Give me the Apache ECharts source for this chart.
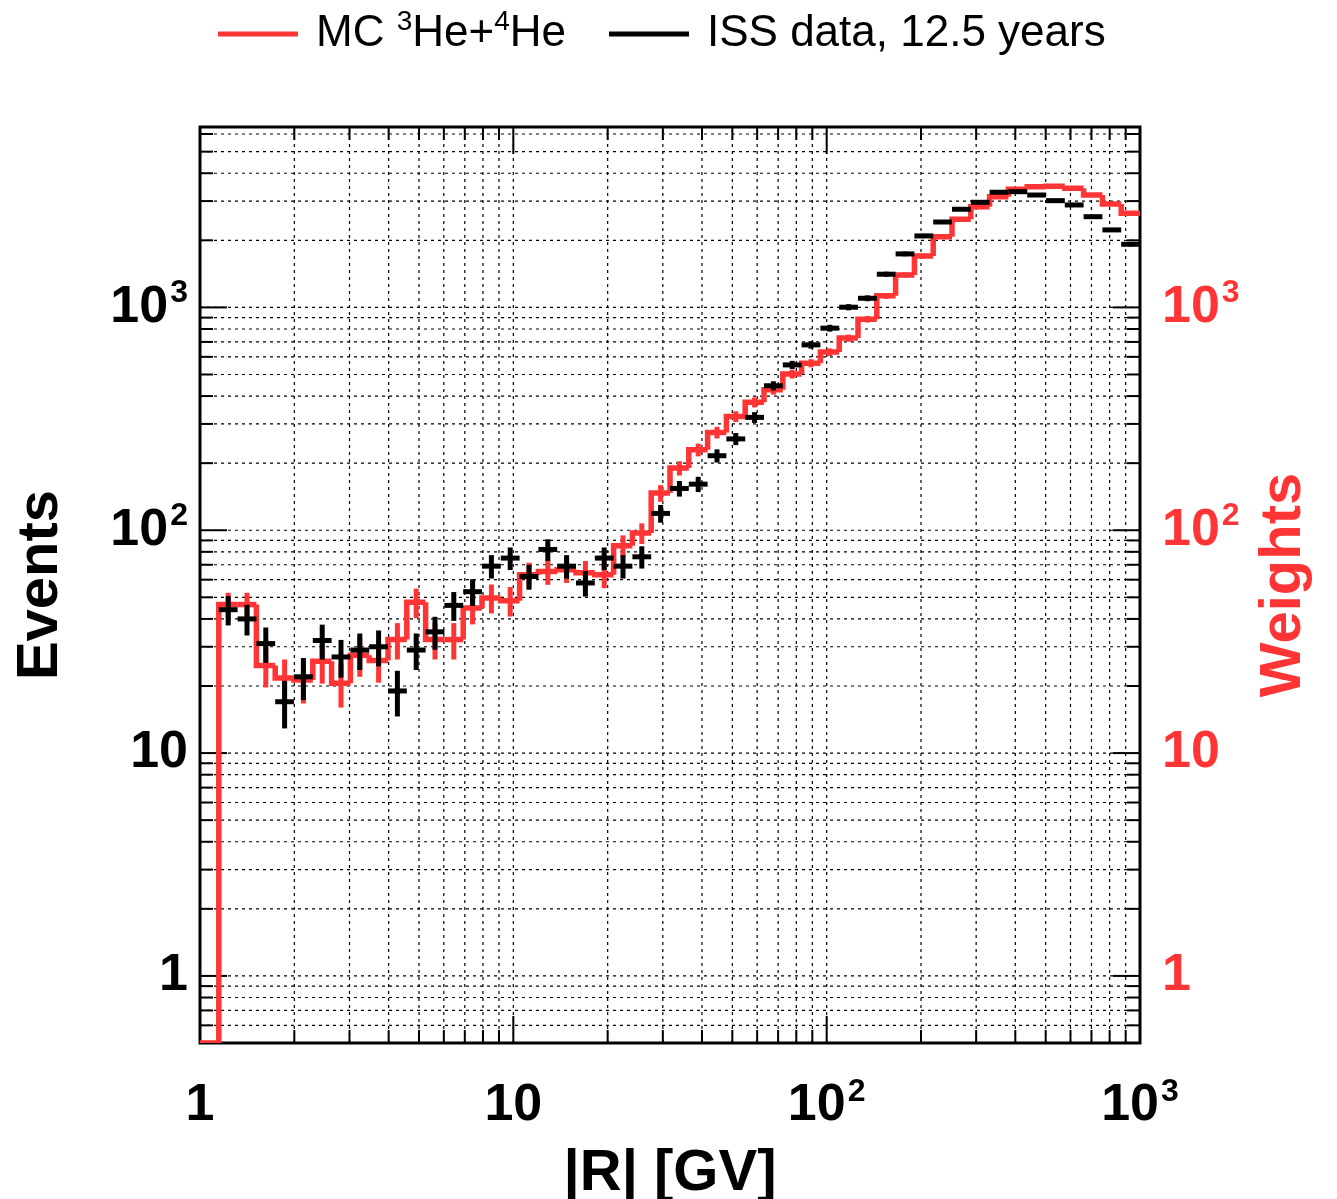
<!DOCTYPE html>
<html><head><meta charset="utf-8">
<script src="https://cdn.jsdelivr.net/npm/echarts@6/dist/echarts.min.js"></script>
<style>html,body{margin:0;padding:0;background:#fff}#chart{width:1337px;height:1199px}</style>
</head><body><div id="chart"></div>
<script>
// ---- data ----
const binEdges = [1, 1.1482, 1.3183, 1.5136, 1.7378, 1.9953, 2.2909, 2.6303, 3.0200, 3.4674,
  3.9811, 4.5709, 5.2481, 6.0256, 6.9183, 7.9433, 9.1201, 10.471, 12.023, 13.804,
  15.849, 18.197, 20.893, 23.988, 27.542, 31.623, 36.308, 41.687, 47.863, 54.954,
  63.096, 72.444, 83.176, 95.499, 109.65, 125.89, 144.54, 165.96, 190.55, 218.78,
  251.19, 288.40, 331.13, 380.19, 436.52, 501.19, 575.44, 660.69, 758.58, 870.96, 1000];
const issCounts = [null, 44, 40, 31, 17, 22, 32, 27, 29, 30,
  19, 29, 35, 46, 53, 69, 75, 62, 82, 69,
  58, 75, 69, 76, 119, 154, 161, 216, 257, 321,
  445, 552, 679, 807, 1002, 1099, 1409, 1738, 2093, 2417,
  2757, 2963, 3287, 3305, 3194, 3013, 2882, 2553, 2227, 1920];
const issErrors = [null, 6.6, 6.3, 5.6, 4.1, 4.7, 5.7, 5.2, 5.4, 5.5,
  4.4, 5.4, 5.9, 6.8, 7.3, 8.3, 8.7, 7.9, 9.1, 8.3,
  7.6, 8.7, 8.3, 8.7, 10.9, 12.4, 12.7, 14.7, 16.0, 17.9,
  21.1, 23.5, 26.1, 28.4, 31.7, 33.2, 37.5, 41.7, 45.7, 49.2,
  52.5, 54.4, 57.3, 57.5, 56.5, 54.9, 53.7, 50.5, 47.2, 43.8];
const mcWeights = [0, 46.4, 46.4, 24.7, 21.7, 21.3, 25.8, 20.6, 27.5, 26.0,
  32.3, 47.5, 32.3, 32.3, 44.8, 49.7, 48.3, 63.2, 65.3, 66.5,
  64.4, 63.2, 85.2, 97.1, 146.8, 190, 229.6, 274.6, 323.8, 375,
  426.6, 502, 562, 630, 728, 885, 1127, 1399, 1702, 2077,
  2486, 2832, 3140, 3389, 3481, 3500, 3426, 3194, 2911, 2644];
const mcErrors = [0, 6, 6, 5, 4.6, 4.6, 5.3, 4.6, 5.5, 5.3,
  6, 7.2, 6, 6, 7, 7.4, 7.3, 8.3, 8.4, 8.5,
  8.4, 8.3, 9.6, 10.3, 12.6, 14, 15, 16.5, 18, 19.4,
  20.7, 22.4, 23.7, 25, 27, 29.7, 33.6, 37.4, 41.3, 45.6,
  49.9, 53.2, 56, 58.2, 59, 59.2, 58.5, 56.5, 54, 51.4];
const xMajorTicks = [10, 100];
const xMinorTicks = [2, 3, 4, 5, 6, 7, 8, 9, 20, 30, 40, 50, 60, 70, 80, 90, 200, 300, 400, 500, 600, 700, 800, 900];
const yMajorTicks = [1, 10, 100, 1000];
const yMinorTicks = [0.6, 0.7, 0.8, 0.9, 2, 3, 4, 5, 6, 7, 8, 9, 20, 30, 40, 50, 60, 70, 80, 90,
  200, 300, 400, 500, 600, 700, 800, 900, 2000, 3000, 4000, 5000, 6000];
const X_MIN = 1, X_MAX = 1000, Y_MIN = 0.5, Y_MAX = 6450;
const MC_NAME = 'MC 3He+4He';
const ISS_NAME = 'ISS data, 12.5 years';

// ---- styles ----
const RED = '#ff3434';
const FONT = "'Liberation Sans', Arial, Helvetica, sans-serif";

function powLabel(color) {
  return function (v) {
    const e = Math.round(Math.log10(v));
    if (Math.abs(Math.log10(v) - e) > 1e-6) return '';
    if (e === 0) return '{b|1}';
    if (e === 1) return '{b|10}';
    return '{b|10}{s|' + e + '}';
  };
}
function labelRich(color) {
  return {
    b: { fontFamily: FONT, fontWeight: 'bold', fontSize: 52, color: color, lineHeight: 60 },
    s: { fontFamily: FONT, fontWeight: 'bold', fontSize: 32, color: color, verticalAlign: 'top', lineHeight: 40, padding: [0, 0, 0, 2] }
  };
}

const vData = xMajorTicks.map(v => [v, Y_MIN, 1]).concat(xMinorTicks.map(v => [v, Y_MIN, 0]));
const hData = yMajorTicks.map(v => [X_MIN, v, 1]).concat(yMinorTicks.map(v => [X_MIN, v, 0]));
const mcData = mcWeights.map((w, i) => [binEdges[i], w, binEdges[i + 1], mcErrors[i], i > 0 ? mcWeights[i - 1] : 0]);
const issData = [];
issCounts.forEach((c, i) => { if (c !== null) issData.push([binEdges[i], c, binEdges[i + 1], issErrors[i]]); });

const gridStyle = { stroke: '#000', lineWidth: 1.2, lineDash: [3, 4] };
const tickStyle = { stroke: '#000', lineWidth: 2 };

function renderV(params, api) {
  const v = api.value(0), major = api.value(2);
  const pb = api.coord([v, Y_MIN]), pt = api.coord([v, Y_MAX]);
  const len = major ? 27 : 13;
  return { type: 'group', children: [
    { type: 'line', shape: { x1: pb[0], y1: pb[1], x2: pt[0], y2: pt[1] }, style: gridStyle },
    { type: 'line', shape: { x1: pb[0], y1: pb[1], x2: pb[0], y2: pb[1] - len }, style: tickStyle },
    { type: 'line', shape: { x1: pt[0], y1: pt[1], x2: pt[0], y2: pt[1] + len }, style: tickStyle }
  ] };
}
function renderH(params, api) {
  const v = api.value(1), major = api.value(2);
  const pl = api.coord([X_MIN, v]), pr = api.coord([X_MAX, v]);
  const len = major ? 27 : 13;
  return { type: 'group', children: [
    { type: 'line', shape: { x1: pl[0], y1: pl[1], x2: pr[0], y2: pr[1] }, style: gridStyle },
    { type: 'line', shape: { x1: pl[0], y1: pl[1], x2: pl[0] + len, y2: pl[1] }, style: tickStyle },
    { type: 'line', shape: { x1: pr[0], y1: pr[1], x2: pr[0] - len, y2: pr[1] }, style: tickStyle }
  ] };
}
function renderMC(params, api) {
  const e0 = api.value(0), w = api.value(1), e1 = api.value(2), err = api.value(3), prev = api.value(4);
  const lw = w > 0 ? w : Y_MIN, lp = prev > 0 ? prev : Y_MIN;
  const p0 = api.coord([e0, lw]), p1 = api.coord([e1, lw]), pp = api.coord([e0, lp]);
  const children = [
    { type: 'polyline', shape: { points: [[pp[0], pp[1]], [p0[0], p0[1]], [p1[0], p1[1]]] }, style: { stroke: RED, lineWidth: 5.5, fill: null, lineJoin: 'miter' } }
  ];
  if (w > 0 && err > 0) {
    const xc = (p0[0] + p1[0]) / 2;
    const lo = api.coord([e0, Math.max(w - err, Y_MIN)])[1], hi = api.coord([e0, w + err])[1];
    children.push({ type: 'line', shape: { x1: xc, y1: lo, x2: xc, y2: hi }, style: { stroke: RED, lineWidth: 5 } });
  }
  return { type: 'group', children };
}
function renderISS(params, api) {
  const e0 = api.value(0), c = api.value(1), e1 = api.value(2), err = api.value(3);
  const p0 = api.coord([e0, c]), p1 = api.coord([e1, c]);
  const xc = (p0[0] + p1[0]) / 2;
  const lo = api.coord([e0, Math.max(c - err, Y_MIN)])[1], hi = api.coord([e0, c + err])[1];
  return { type: 'group', children: [
    { type: 'line', shape: { x1: p0[0], y1: p0[1], x2: p1[0], y2: p1[1] }, style: { stroke: '#000', lineWidth: 5 } },
    { type: 'line', shape: { x1: xc, y1: lo, x2: xc, y2: hi }, style: { stroke: '#000', lineWidth: 5 } }
  ] };
}

const chart = echarts.init(document.getElementById('chart'), null, { renderer: 'canvas' });
chart.setOption({
  backgroundColor: '#fff',
  animation: false,
  grid: { left: 200, right: 197, top: 127, bottom: 156, show: true, borderColor: '#000', borderWidth: 3,
    backgroundColor: 'transparent', containLabel: false, outerBoundsMode: 'none' },
  legend: {
    left: 213, top: 3, itemWidth: 80, itemHeight: 5, itemGap: 43,
    data: [{ name: MC_NAME, icon: 'rect' }, { name: ISS_NAME, icon: 'rect' }],
    formatter: function (name) {
      if (name === MC_NAME) return '{g|}{n|MC }{s|3}{n|He+}{s|4}{n|He}';
      return '{g|}{n|' + name + '}';
    },
    textStyle: {
      fontFamily: FONT, fontSize: 44, color: '#000',
      rich: {
        g: { width: 13 },
        n: { fontFamily: FONT, fontSize: 44, color: '#000', lineHeight: 52 },
        s: { fontFamily: FONT, fontSize: 28, color: '#000', verticalAlign: 'top', lineHeight: 34 }
      }
    }
  },
  xAxis: {
    type: 'log', logBase: 10, min: X_MIN, max: X_MAX,
    axisLine: { show: false }, axisTick: { show: false }, splitLine: { show: false }, minorTick: { show: false },
    axisLabel: { formatter: powLabel('#000'), rich: labelRich('#000'), margin: 33, showMinLabel: true, showMaxLabel: true },
    name: '|R| [GV]', nameLocation: 'middle', nameGap: 102,
    nameTextStyle: { fontFamily: FONT, fontWeight: 'bold', fontSize: 58, color: '#000' }
  },
  yAxis: [{
    type: 'log', logBase: 10, min: Y_MIN, max: Y_MAX, position: 'left',
    axisLine: { show: false }, axisTick: { show: false }, splitLine: { show: false }, minorTick: { show: false },
    axisLabel: { formatter: powLabel('#000'), rich: labelRich('#000'), margin: 12 },
    name: 'Events', nameLocation: 'middle', nameRotate: 90, nameGap: 130,
    nameTextStyle: { fontFamily: FONT, fontWeight: 'bold', fontSize: 58, color: '#000' }
  }, {
    type: 'log', logBase: 10, min: Y_MIN, max: Y_MAX, position: 'right',
    axisLine: { show: false }, axisTick: { show: false }, splitLine: { show: false }, minorTick: { show: false },
    axisLabel: { formatter: powLabel(RED), rich: labelRich(RED), margin: 22 },
    name: 'Weights', nameLocation: 'middle', nameRotate: 90, nameGap: 115,
    nameTextStyle: { fontFamily: FONT, fontWeight: 'bold', fontSize: 58, color: RED }
  }],
  series: [
    { type: 'custom', name: 'vgrid', silent: true, z: 1, clip: true, data: vData, encode: { x: 0, y: 1 }, renderItem: renderV },
    { type: 'custom', name: 'hgrid', silent: true, z: 1, clip: true, data: hData, encode: { x: 0, y: 1 }, renderItem: renderH },
    { type: 'custom', name: MC_NAME, z: 3, clip: true, itemStyle: { color: RED }, data: mcData, encode: { x: [0, 2], y: 1 }, renderItem: renderMC },
    { type: 'custom', name: ISS_NAME, z: 4, clip: true, itemStyle: { color: '#000' }, data: issData, encode: { x: [0, 2], y: 1 }, renderItem: renderISS }
  ]
});
</script></body></html>
